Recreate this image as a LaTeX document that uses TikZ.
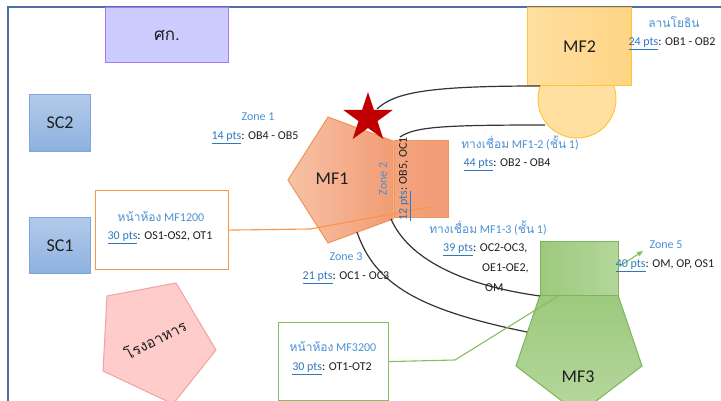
\documentclass[tikz,border=0pt]{standalone}
\usepackage{fontspec}
\setmainfont{Carlito}
\newfontfamily\thai[Script=Thai]{Loma}
\usetikzlibrary{shapes.geometric,arrows.meta}
\definecolor{frameblue}{HTML}{4F6FA6}
\definecolor{lblue}{HTML}{4A90D2}
\definecolor{ublue}{HTML}{2E78C0}
\definecolor{txt}{HTML}{1F1F1F}
\definecolor{purf}{HTML}{CCCCFF}
\definecolor{purd}{HTML}{A77CF2}
\definecolor{sctop}{HTML}{B3CBEA}
\definecolor{scbot}{HTML}{8DB1DF}
\definecolor{scd}{HTML}{7DA6DA}
\definecolor{orgd}{HTML}{F79646}
\definecolor{mfod}{HTML}{F0955A}
\definecolor{mfol}{HTML}{F7C2A6}
\definecolor{mfor}{HTML}{F29C75}
\definecolor{grnd}{HTML}{86BE5F}
\definecolor{mf3d}{HTML}{7DB65A}
\definecolor{mf3a}{HTML}{9DC97D}
\definecolor{mf3b}{HTML}{B6D89E}
\definecolor{yelf}{HTML}{FFD484}
\definecolor{yell}{HTML}{FFE0A0}
\definecolor{yeld}{HTML}{FFC43A}
\definecolor{pinkf}{HTML}{FFCCCC}
\definecolor{pinkd}{HTML}{F4A0A0}
\definecolor{starred}{HTML}{C00000}
\definecolor{curve}{HTML}{333333}
\newcommand{\ptsof}[1]{\textcolor{ublue}{\underline{#1 pts}}}
\tikzset{
  lbl/.style={font=\fontsize{12}{14}\selectfont, text=lblue, inner sep=0pt},
  val/.style={font=\fontsize{12}{14}\selectfont, text=txt, inner sep=0pt},
  big/.style={font=\fontsize{18}{20}\selectfont, text=txt},
  scbox/.style={draw=scd, top color=sctop, bottom color=scbot, line width=1pt,
    minimum width=61pt, minimum height=57pt, anchor=north west, inner sep=0pt, big},
  infobox/.style={fill=white, line width=1.2pt, anchor=north west, inner sep=0pt},
  link/.style={draw=curve, line width=1.2pt},
}
\begin{document}
\begin{tikzpicture}[x=1pt,y=-1pt]
\useasboundingbox (0,0) rectangle (721,401);
\clip (0,0) rectangle (721,401);
% frame
\draw[frameblue, line width=1.5pt] (8,410) -- (8,7) -- (730,7);
% top purple
\node[draw=purd, fill=purf, line width=1pt, minimum width=123pt, minimum height=55pt,
  anchor=north west, inner sep=0pt, font=\thai\fontsize{17}{19}\selectfont, text=txt] (sk) at (105,7) {ศก.};
% SC boxes
\node[scbox] (sc2) at (29,94) {SC2};
\node[scbox, minimum height=56pt] (sc1) at (29,217) {SC1};
% info boxes
\node[infobox, draw=orgd, minimum width=133pt, minimum height=79pt] (mf1200) at (95,190) {};
\node[infobox, draw=grnd, minimum width=110pt, minimum height=78pt] (mf3200) at (278,322) {};
% canteen
\draw[fill=pinkf, draw=pinkd, line width=1pt] (107,296) -- (176,283) -- (216,350) -- (173,404) -- (103,371) -- cycle;
\node[rotate=27, font=\thai\fontsize{15}{17}\selectfont, text=txt, inner sep=0pt] (canteen) at (155,339) {โรงอาหาร};
% MF2
\draw[fill=yell, draw=yeld, line width=1pt] (577,99) circle[radius=39pt];
\node[draw=yeld, left color=yell, right color=yelf, line width=1pt, minimum width=104pt, minimum height=78pt,
  anchor=north west, inner sep=0pt] (mf2) at (527,7) {};
\node[big] at (mf2.center) {MF2};
% MF3
\draw[draw=mf3d, top color=mf3a, bottom color=mf3b, line width=1pt]
  (540,295) -- (618,295) -- (642,366) -- (579,414) -- (516,366) -- cycle;
\node[draw=mf3d, left color=mf3a, right color=mf3b!90!mf3a, line width=1pt, minimum width=78pt, minimum height=54pt,
  anchor=north west, inner sep=0pt] (mf3r) at (540,241) {};
\node[big] (mf3) at (578,377) {MF3};
% MF1
\draw[draw=mfod, left color=mfol, right color=mfor, line width=1pt]
  (288,180) -- (328,117) -- (393,141) -- (393,219) -- (328,243) -- cycle;
\node[draw=mfod, left color=mfor!80!mfol, right color=mfor, line width=1pt, minimum width=54pt, minimum height=77pt,
  anchor=north west, inner sep=0pt] (z2r) at (394,140) {};
\node[big] (mf1) at (332,179) {MF1};
% star
\node[star, star points=5, star point ratio=2.6, minimum size=52pt, fill=starred, inner sep=0pt] (star) at (368,118) {};
% connector end points
\coordinate (c1s) at (377,109);
\coordinate (c1e) at (540,86);
\coordinate (c2s) at (400,137);
\coordinate (c2e) at (545,125);
\coordinate (c3s) at (391,219);
\coordinate (c3e) at (540,296);
\coordinate (c4s) at (357,232);
\coordinate (c4e) at (527,332);
\coordinate (obend) at (310,229);
\coordinate (oend) at (430,207);
\coordinate (gbend) at (455,360);
\coordinate (gend) at (558,296);
\coordinate (z5s) at (620,266);
\coordinate (z5e) at (643,251);
% curves
\draw[link] (c1s) .. controls (395,92) and (430,86) .. (c1e);
\draw[link] (c2s) .. controls (415,127) and (440,125) .. (c2e);
\draw[link] (c3s) .. controls (408,258) and (460,285) .. (c3e);
\draw[link] (c4s) .. controls (375,285) and (420,310) .. (c4e);
% pointer lines
\draw[orgd, line width=1.1pt] (mf1200.east) -- (obend) -- (oend);
\draw[grnd, line width=1.1pt] (mf3200.east) -- (gbend) -- (gend);
\draw[grnd, line width=1.1pt, -{Triangle[length=6pt,width=5pt]}] (z5s) -- (z5e);
% labels
\node[lbl] (z1) at (258,117) {Zone 1};
\node[val] (z1p) at (255,138) {\ptsof{14}: OB4 - OB5};
\node[lbl, rotate=90] (z2) at (383,179) {Zone 2};
\node[val, rotate=90] (z2p) at (405,179) {\ptsof{12}: OB5, OC1};
\node[lbl] (z3) at (346,257) {Zone 3};
\node[val] (z3p) at (346,278) {\ptsof{21}: OC1 - OC3};
\node[lbl] (z4) at (674,22) {\thai ลานโยธิน};
\node[val] (z4p) at (672,44) {\ptsof{24}: OB1 - OB2};
\node[lbl] (l12) at (520,143) {{\thai ทางเชื่อม} MF1-2 ({\thai ชั้น} 1)};
\node[val] (l12p) at (507,165) {\ptsof{44}: OB2 - OB4};
\node[lbl] (l13) at (488,228) {{\thai ทางเชื่อม} MF1-3 ({\thai ชั้น} 1)};
\node[val, anchor=west] (l13p) at (443,250) {\ptsof{39}: OC2-OC3,};
\node[val, anchor=west] (l13q) at (482,268) {OE1-OE2,};
\node[val, anchor=west] (l13r) at (485,288) {OM};
\node[lbl] (z5) at (666,245) {Zone 5};
\node[val] (z5p) at (665,266) {\ptsof{40}: OM, OP, OS1};
\node[lbl] (f12) at (161,217) {{\thai หน้าห้อง} MF1200};
\node[val] (f12p) at (160,238) {\ptsof{30}: OS1-OS2, OT1};
\node[lbl] (f32) at (333,347) {{\thai หน้าห้อง} MF3200};
\node[val] (f32p) at (332,369) {\ptsof{30}: OT1-OT2};
\end{tikzpicture}
\end{document}
